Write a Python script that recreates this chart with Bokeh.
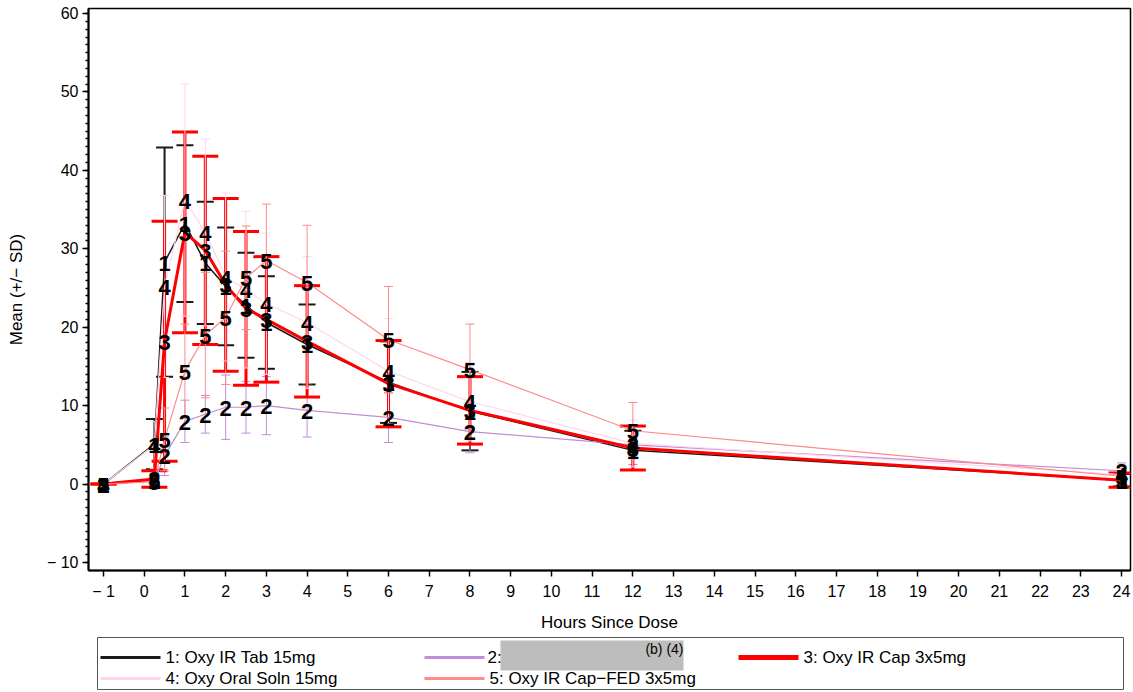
from bokeh.plotting import figure
from bokeh.models import ColumnDataSource, Whisker, TeeHead, FixedTicker, Range1d
from bokeh.layouts import column
from bokeh.core.properties import value
from bokeh.embed import file_html
from bokeh.resources import INLINE

# ---------------- data ----------------
hours = [-1, 0.25, 0.5, 1, 1.5, 2, 2.5, 3, 4, 6, 8, 12, 24]

s1_name = "1: Oxy IR Tab 15mg"
s1_mean = [0, 5.1, 28.3, 33.2, 28.2, 25.2, 22.8, 20.6, 17.8, 13.0, 9.3, 4.3, 0.5]
s1_sd = [0, 3.2, 14.6, 10.0, 7.8, 7.5, 6.7, 5.9, 5.1, 5.2, 5.0, 2.5, 0.8]

s2_name = "2:"
s2_mean = [0, 0.4, 3.6, 8.0, 8.9, 9.8, 9.8, 10.0, 9.4, 8.5, 6.7, 5.0, 1.7]
s2_sd = [0, 0.5, 2.5, 2.7, 2.4, 4.1, 3.3, 3.7, 3.4, 3.2, 2.7, 2.5, 1.0]

s3_name = "3: Oxy IR Cap 3x5mg"
s3_mean = [0, 0.65, 18.2, 32.1, 29.8, 25.4, 22.4, 21.0, 18.2, 12.8, 9.4, 4.6, 0.5]
s3_sd = [0, 1.05, 15.3, 12.8, 12.0, 11.0, 9.8, 8.0, 7.1, 5.5, 4.3, 2.8, 0.9]

s4_name = "4: Oxy Oral Soln 15mg"
s4_mean = [0, 5.0, 25.2, 36.2, 32.1, 26.4, 24.8, 23.0, 20.6, 14.4, 10.5, 5.2, 1.2]
s4_sd = [0, 3.0, 11.6, 14.8, 11.9, 10.7, 10.0, 9.0, 8.4, 6.7, 5.0, 3.0, 1.0]

s5_name = "5: Oxy IR Cap\u2212FED 3x5mg"
s5_mean = [0, 0.3, 5.7, 14.4, 19.0, 21.2, 26.3, 28.5, 25.7, 18.4, 14.6, 6.8, 1.0]
s5_sd = [0, 0.5, 4.0, 6.0, 8.0, 8.5, 6.6, 7.2, 7.3, 6.8, 5.8, 3.6, 1.0]

x_ticks = list(range(-1, 25))
y_ticks = [-10, 0, 10, 20, 30, 40, 50, 60]

series = [
    # name, mean, sd, marker label, line color, line width, bar width, cap size
    (s1_name, s1_mean, s1_sd, "1", "#1a1a1a", 1.5, 2, 17),
    (s2_name, s2_mean, s2_sd, "2", "#c08ed6", 1.2, 1, 9),
    (s3_name, s3_mean, s3_sd, "3", "#ff0000", 3.0, 3, 26),
    (s4_name, s4_mean, s4_sd, "4", "#ffd6ee", 1.2, 1, 9),
    (s5_name, s5_mean, s5_sd, "5", "#ff8a8a", 1.2, 1, 9),
]

FONT = "Liberation Sans"
W = 1132

p = figure(width=W, height=634, output_backend="svg", toolbar_location=None,
           x_range=Range1d(-1.368, 24.221), y_range=Range1d(-11.016, 60.635),
           min_border_left=88, min_border_right=2, min_border_top=8, min_border_bottom=62)
p.grid.visible = False
p.outline_line_color = "black"
p.outline_line_width = 1.5
p.background_fill_color = "white"

p.xaxis.ticker = FixedTicker(ticks=x_ticks)
p.yaxis.ticker = FixedTicker(ticks=y_ticks, minor_ticks=list(range(-10, 61)))
p.xaxis.major_label_overrides = {-1: "\u2212 1"}
p.yaxis.major_label_overrides = {-10: "\u2212 10"}
for ax in (p.xaxis, p.yaxis):
    ax.axis_line_width = 2
    ax.axis_line_color = "black"
    ax.major_tick_in = 0
    ax.major_tick_out = 6
    ax.major_tick_line_width = 1.5
    ax.minor_tick_in = 0
    ax.minor_tick_out = 3
    ax.minor_tick_line_width = 1.5
    ax.major_label_text_font = FONT
    ax.major_label_text_font_size = "16px"
    ax.major_label_text_color = "black"
    ax.axis_label_text_font = FONT
    ax.axis_label_text_font_size = "17px"
    ax.axis_label_text_font_style = "normal"
    ax.axis_label_text_color = "black"
p.xaxis.minor_tick_out = 0
p.xaxis.major_label_standoff = 6
p.xaxis.axis_label = "Hours Since Dose"
p.xaxis.axis_label_standoff = 10
p.yaxis.major_label_standoff = 4
p.yaxis.axis_label = "Mean (+/\u2212 SD)"
p.yaxis.axis_label_standoff = 18

sources = []
for name, mean, sd, lab, col, lw, bw, cap in series:
    upper = [m + s for m, s in zip(mean, sd)]
    lower = [m - s for m, s in zip(mean, sd)]
    src = ColumnDataSource(dict(x=hours, y=mean, upper=upper, lower=lower,
                                lab=[lab] * len(hours)))
    sources.append(src)
    w = Whisker(source=src, base="x", upper="upper", lower="lower",
                line_color=col, line_width=bw,
                upper_head=TeeHead(size=cap, line_color=col, line_width=bw),
                lower_head=TeeHead(size=cap, line_color=col, line_width=bw))
    p.add_layout(w)

for (name, mean, sd, lab, col, lw, bw, cap), src in zip(series, sources):
    p.line("x", "y", source=src, line_color=col, line_width=lw)

for src in sources:
    p.text("x", "y", text="lab", source=src, text_align="center", text_baseline="middle",
           text_font=value(FONT), text_font_size="22px", text_font_style="bold",
           text_color="black", y_offset=1)

# ---------------- legend panel (data units = page pixels) ----------------
lg = figure(width=W, height=56, output_backend="svg", toolbar_location=None,
            x_range=Range1d(88, 1130), y_range=Range1d(690, 634),
            min_border_left=88, min_border_right=2, min_border_top=0, min_border_bottom=0,
            x_axis_location=None, y_axis_location=None)
lg.grid.visible = False
lg.outline_line_color = None
lg.background_fill_color = "white"

lg.quad(left=[97], right=[1123], top=[637], bottom=[689], fill_color="white",
        line_color="#555555", line_width=1)

# redaction box (drawn before the legend texts)
lg.quad(left=[500], right=[683], top=[640], bottom=[670], fill_color="#bdbdbd", line_color=None)
lg.text(x=[683], y=[648], text=["(b) (4)"], text_align="right", text_baseline="middle",
        text_font=value(FONT), text_font_size="14px", text_color="black")

col_x = [100, 424, 738]
row_y = [657, 678]
legend_pos = [(0, 0), (1, 0), (2, 0), (0, 1), (1, 1)]
swatch_w = [3, 3, 5, 3, 3]
for (name, mean, sd, lab, col, lw, bw, cap), (ci, ri), sw in zip(series, legend_pos, swatch_w):
    x0 = col_x[ci]
    y0 = row_y[ri]
    lg.segment(x0=[x0], y0=[y0], x1=[x0 + 60], y1=[y0], line_color=col, line_width=sw)
    tx = x0 + 63 if ci == 1 and ri == 0 else x0 + 65
    lg.text(x=[tx], y=[y0], text=[name], text_align="left", text_baseline="middle",
            text_font=value(FONT), text_font_size="17px", text_color="black")

layout = column(p, lg, spacing=0)
open("out.html", "w").write(file_html(layout, INLINE))
